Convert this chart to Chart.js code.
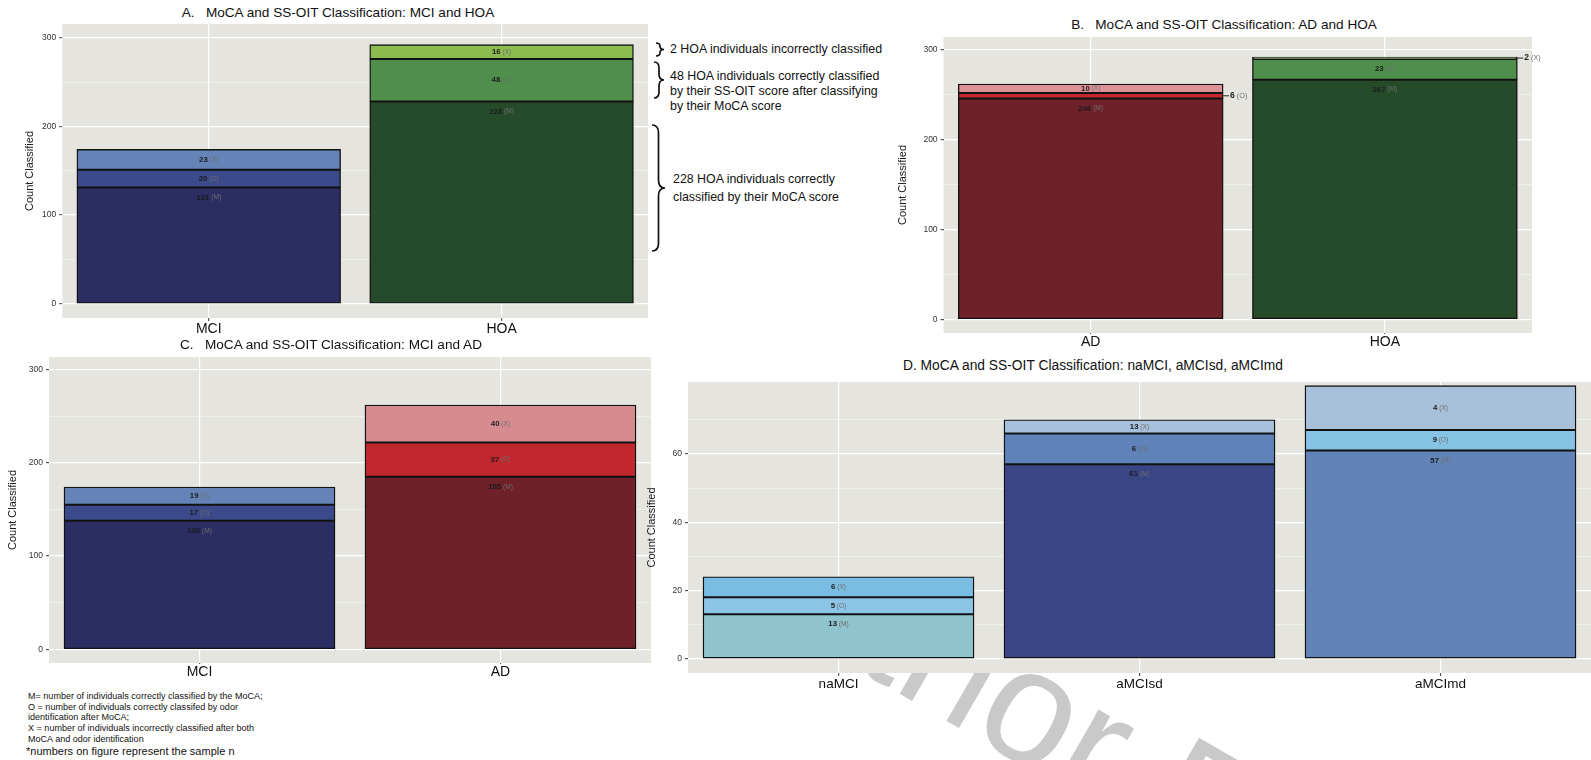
<!DOCTYPE html>
<html><head><meta charset="utf-8">
<script src="https://cdn.jsdelivr.net/npm/chart.js@4"></script>
<style>
html,body{margin:0;padding:0;background:#fff;width:1591px;height:760px;overflow:hidden;font-family:"Liberation Sans",Arial,sans-serif;}
.c{position:absolute;z-index:2}
.ttl{position:absolute;z-index:3;white-space:nowrap;color:#111;font-size:13.6px;line-height:1;text-align:center;width:600px}
.fn{position:absolute;z-index:3;white-space:nowrap;color:#111;font-size:9.05px;line-height:1;left:28px}
.an{position:absolute;z-index:3;white-space:nowrap;color:#111;font-size:12.4px;line-height:1}
#wm{position:absolute;z-index:1;left:748px;top:448px;font:162px/1 "Liberation Sans",Arial,sans-serif;color:#c9c9c9;transform:rotate(30deg);transform-origin:0 0;white-space:nowrap}
svg{position:absolute;left:0;top:0;z-index:3;pointer-events:none}
</style></head>
<body>
<div id="wm">Author Proof</div>

<canvas id="cA" class="c"></canvas>
<canvas id="cB" class="c"></canvas>
<canvas id="cC" class="c"></canvas>
<canvas id="cD" class="c"></canvas>

<div class="ttl" style="left:38px;top:6px">A.&nbsp;&nbsp; MoCA and SS-OIT Classification: MCI and HOA</div>
<div class="ttl" style="left:924px;top:18px">B.&nbsp;&nbsp; MoCA and SS-OIT Classification: AD and HOA</div>
<div class="ttl" style="left:31px;top:338px">C.&nbsp;&nbsp; MoCA and SS-OIT Classification: MCI and AD</div>
<div class="ttl" style="left:793px;top:359px;font-size:13.8px">D. MoCA and SS-OIT Classification: naMCI, aMCIsd, aMCImd</div>

<div class="an" style="left:670px;top:43px">2 HOA individuals incorrectly classified</div>
<div class="an" style="left:670px;top:70px">48 HOA individuals correctly classified</div>
<div class="an" style="left:670px;top:85px">by their SS-OIT score after classifying</div>
<div class="an" style="left:670px;top:100px">by their MoCA score</div>
<div class="an" style="left:673px;top:173px">228 HOA individuals correctly</div>
<div class="an" style="left:673px;top:191px">classified by their MoCA score</div>

<div class="fn" style="top:692px">M= number of individuals correctly classified by the MoCA;</div>
<div class="fn" style="top:703px">O = number of individuals correctly classifed by odor</div>
<div class="fn" style="top:713px">identification after MoCA;</div>
<div class="fn" style="top:724px">X = number of individuals incorrectly classified after both</div>
<div class="fn" style="top:735px">MoCA and odor identification</div>
<div class="fn" style="top:746px;font-size:11px;left:26px">*numbers on figure represent the sample n</div>

<svg id="br" width="1591" height="760"></svg>

<script>
// ---------------- data ----------------
const catsA = ['MCI', 'HOA'];
const aM = [131, 228];
const aO = [20, 48];
const aX = [23, 16];

const catsB = ['AD', 'HOA'];
const bM = [246, 267];
const bO = [6, 23];
const bX = [10, 2];

const catsC = ['MCI', 'AD'];
const cM = [138, 185];
const cO = [17, 37];
const cX = [19, 40];

const catsD = ['naMCI', 'aMCIsd', 'aMCImd'];
const dM = [13, 57, 61];
const dO = [5, 9, 6];
const dX = [6, 4, 13];
// numbers printed on panel D segments
const dMlab = [13, 61, 57];
const dOlab = [5, 6, 9];
const dXlab = [6, 13, 4];

const gridABC = [0, 50, 100, 150, 200, 250, 300];
const tickLabelsABC = [0, 100, 200, 300];
const gridD = [0, 10, 20, 30, 40, 50, 60, 70];
const tickLabelsD = [0, 20, 40, 60];

// ---------------- styles ----------------
const F = '"Liberation Sans", Arial, sans-serif';
const PANEL = '#e5e4df';
const colA = {M: ['#2b2d63', '#264b2b'], O: ['#3a4a8b', '#4f8f4b'], X: ['#6583b7', '#8cbc4f']};
const colB = {M: ['#6e2129', '#264b2b'], O: ['#c1272e', '#4f8f4b'], X: ['#dc9196', '#8cbc4f']};
const colC = {M: ['#2b2d63', '#6e2129'], O: ['#3a4a8b', '#c1282e'], X: ['#6583b7', '#d68c8f']};
const colD = {M: ['#8fc4cf', '#3a4585', '#6283b7'], O: ['#8dc5e6', '#5f83b9', '#86c2e4'], X: ['#7abde3', '#a7c1dd', '#a7c1da']};

const panelBg = {
  id: 'panelBg',
  beforeDraw(chart, args, opts) {
    const {ctx, chartArea: a} = chart;
    ctx.save();
    if (opts.clearFrom != null) { ctx.fillStyle = '#fff'; ctx.fillRect(opts.clearFrom, 0, a.left - opts.clearFrom, a.bottom); }
    ctx.fillStyle = PANEL;
    ctx.fillRect(a.left, a.top, a.right - a.left, a.bottom - a.top);
    ctx.restore();
  }
};

const segLabels = {
  id: 'segLabels',
  afterDatasetsDraw(chart, args, opts) {
    const ctx = chart.ctx;
    ctx.save();
    ctx.textBaseline = 'middle';
    ctx.textAlign = 'left';
    chart.data.datasets.forEach((ds, di) => {
      const meta = chart.getDatasetMeta(di);
      meta.data.forEach((bar, i) => {
        const p = bar.getProps(['x', 'y', 'base', 'width'], true);
        const h = Math.abs(p.base - p.y);
        const outside = h < 7;
        const size = outside ? 8.5 : 7.8;
        const num = String(ds.txt[i]);
        const code = ' (' + ds.code + ')';
        ctx.font = 'bold ' + size + 'px ' + F;
        const w1 = ctx.measureText(num).width;
        ctx.font = (size - 1.2) + 'px ' + F;
        const w2 = ctx.measureText(code).width;
        let tx, ty;
        if (outside) {
          const x0 = p.x + p.width / 2;
          ty = (p.y + p.base) / 2;
          ctx.strokeStyle = '#222';
          ctx.lineWidth = 1;
          ctx.beginPath(); ctx.moveTo(x0, ty); ctx.lineTo(x0 + 6, ty); ctx.stroke();
          tx = x0 + 7;
        } else {
          ty = ds.code === 'M' ? p.y + 10 : (p.y + p.base) / 2;
          tx = p.x - (w1 + w2) / 2;
        }
        ctx.font = 'bold ' + size + 'px ' + F;
        ctx.fillStyle = '#1c1c1c';
        ctx.fillText(num, tx, ty);
        ctx.font = (size - 1.2) + 'px ' + F;
        ctx.fillStyle = '#6e6e6e';
        ctx.fillText(code, tx + w1, ty);
      });
    });
    ctx.restore();
  }
};

function makeChart(id, box, cats, M, O, X, txt, cols, y) {
  const cv = document.getElementById(id);
  cv.width = box.w; cv.height = box.h;
  cv.style.left = box.l + 'px'; cv.style.top = box.t + 'px';
  cv.style.width = box.w + 'px'; cv.style.height = box.h + 'px';
  const mk = (data, code, c, t) => ({
    label: code, code: code, txt: t, data: data,
    backgroundColor: c, borderColor: '#121212', borderWidth: 1.4,
    borderSkipped: false, inflateAmount: 0.4, barPercentage: 0.9, categoryPercentage: 1
  });
  return new Chart(cv, {
    type: 'bar',
    data: {labels: cats, datasets: [mk(M, 'M', cols.M, txt.M), mk(O, 'O', cols.O, txt.O), mk(X, 'X', cols.X, txt.X)]},
    options: {
      responsive: false, animation: false, devicePixelRatio: 1,
      layout: {padding: {top: 0, left: 0, bottom: 0, right: box.pr || 0}},
      plugins: {legend: {display: false}, tooltip: {enabled: false}, title: {display: false},
        panelBg: {clearFrom: box.clearFrom}, segLabels: {}},
      scales: {
        x: {
          stacked: true, offset: true,
          grid: {offset: false, color: '#ffffff', lineWidth: 1.2, drawTicks: true, tickLength: box.xtl, tickColor: '#555'},
          border: {display: false},
          ticks: {font: {size: box.xf || 14, family: F}, color: '#111', padding: 0},
          afterFit(s) { s.height = box.xh; s.paddingLeft = 0; s.paddingRight = 0; }
        },
        y: {
          stacked: true, bounds: 'data', min: y.min, max: y.max,
          afterBuildTicks(s) { s.ticks = y.grid.map(v => ({value: v})); },
          ticks: {autoSkip: false, padding: 3, font: {size: 8.5, family: F}, color: '#333',
            callback: v => y.labels.includes(v) ? String(v) : ''},
          grid: {
            color: c => (c.tick && y.labels.includes(c.tick.value)) ? '#ffffff' : 'rgba(255,255,255,0.55)',
            lineWidth: c => (c.tick && y.labels.includes(c.tick.value)) ? 1.2 : 0.8,
            tickLength: 3,
            tickColor: c => (c.tick && y.labels.includes(c.tick.value)) ? '#555' : 'rgba(0,0,0,0)'
          },
          border: {display: false},
          title: {display: true, text: 'Count Classified', font: {size: 11, family: F}, color: '#1a1a1a', padding: 0},
          afterFit(s) { s.width = box.yw; s.paddingTop = 0; s.paddingBottom = 0; }
        }
      }
    },
    plugins: [panelBg, segLabels]
  });
}

makeChart('cA', {l: 23, t: 24, w: 625, h: 316, yw: 39.3, xh: 22, xtl: 3}, catsA, aM, aO, aX,
  {M: aM, O: aO, X: aX}, colA, {min: -16, max: 315.4, grid: gridABC, labels: tickLabelsABC});
makeChart('cB', {l: 896, t: 37, w: 660, h: 318, yw: 47.6, xh: 22, xtl: 1, pr: 24}, catsB, bM, bO, bX,
  {M: bM, O: bO, X: bX}, colB, {min: -15.3, max: 314.5, grid: gridABC, labels: tickLabelsABC});
makeChart('cC', {l: 6, t: 357, w: 645, h: 328, yw: 43, xh: 22, xtl: 1}, catsC, cM, cO, cX,
  {M: cM, O: cO, X: cX}, colC, {min: -14.7, max: 313.6, grid: gridABC, labels: tickLabelsABC});
makeChart('cD', {l: 645, t: 382, w: 946, h: 313, yw: 43, xh: 22, xtl: 3, xf: 13.5, clearFrom: 7}, catsD, dM, dO, dX,
  {M: dMlab, O: dOlab, X: dXlab}, colD, {min: -4.19, max: 81.1, grid: gridD, labels: tickLabelsD});

// braces for the annotations of panel A
function brace(x, y1, y2, w) {
  const m = (y1 + y2) / 2, r = Math.min(w * 0.6, (y2 - y1) / 4), xm = x + w / 2;
  return `M${x},${y1} Q${xm},${y1} ${xm},${y1 + r} L${xm},${m - r} Q${xm},${m} ${x + w},${m} ` +
         `Q${xm},${m} ${xm},${m + r} L${xm},${y2 - r} Q${xm},${y2} ${x},${y2}`;
}
const svg = document.getElementById('br');
[[656, 43, 56, 8], [654, 62, 98, 10], [652, 125, 251, 13]].forEach(b => {
  const p = document.createElementNS('http://www.w3.org/2000/svg', 'path');
  p.setAttribute('d', brace(b[0], b[1], b[2], b[3]));
  p.setAttribute('fill', 'none');
  p.setAttribute('stroke', '#111');
  p.setAttribute('stroke-width', '1.7');
  svg.appendChild(p);
});
</script>
</body></html>
